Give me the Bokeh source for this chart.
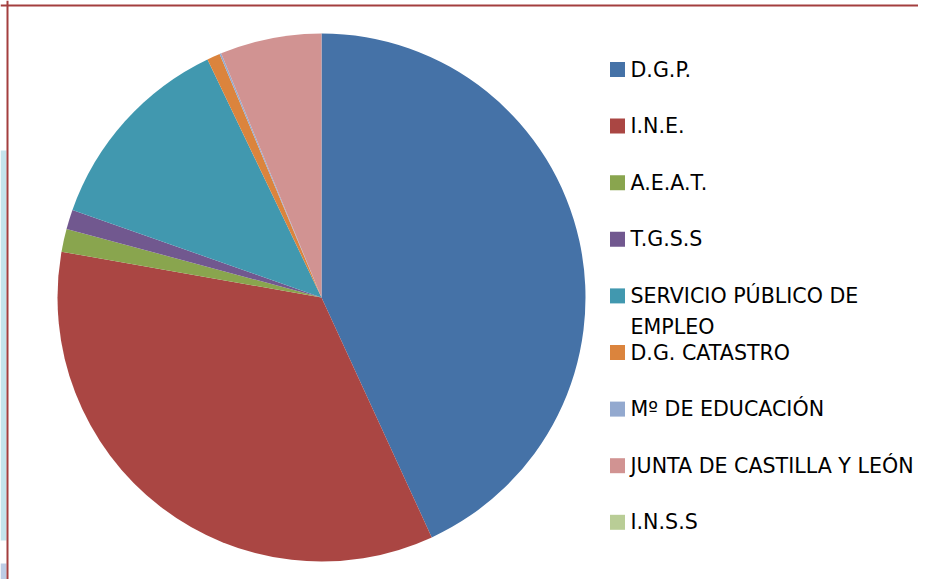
import math
from bokeh.plotting import figure
from bokeh.models import ColumnDataSource, Range1d, Span, BoxAnnotation
from bokeh.core.properties import value
from bokeh.embed import file_html
from bokeh.resources import INLINE

# ---- data (percent shares) ----
categories = ["D.G.P.", "I.N.E.", "A.E.A.T.", "T.G.S.S",
              "SERVICIO PÚBLICO DE\nEMPLEO", "D.G. CATASTRO",
              "Mº DE EDUCACIÓN", "JUNTA DE CASTILLA Y LEÓN", "I.N.S.S"]
shares = [43.1, 34.6, 1.4, 1.2, 12.5, 0.8, 0.1, 6.2, 0.0]
colors = ["#4572A7", "#AA4643", "#89A54E", "#71588F", "#4198AF",
          "#DB843D", "#93A9CF", "#D19392", "#B9CD96"]

W, H = 918, 579
p = figure(width=W, height=H, output_backend="svg", toolbar_location=None,
           x_range=Range1d(0, W), y_range=Range1d(0, H), min_border=0)
p.axis.visible = False
p.grid.visible = False
p.outline_line_color = None
p.background_fill_color = "white"
p.border_fill_color = "white"

# ---- faint background decoration at the left edge ----
p.add_layout(BoxAnnotation(left=0, right=6, top=H - 150, bottom=H - 540,
                           fill_color="#b5dde7", fill_alpha=0.8, line_color=None))
p.add_layout(BoxAnnotation(left=0, right=6, top=H - 563, bottom=0,
                           fill_color="#b6c6e2", fill_alpha=0.9, line_color=None))

# ---- pie ----
cx, cy, r = 321, H - 297, 264
total = sum(shares)
starts, ends, cols = [], [], []
cum = 0.0
for s, c in zip(shares, colors):
    if s > 0:
        starts.append(math.pi / 2 - 2 * math.pi * cum / total)
        ends.append(math.pi / 2 - 2 * math.pi * (cum + s) / total)
        cols.append(c)
    cum += s
src = ColumnDataSource(dict(start=starts, end=ends, color=cols))
p.wedge(x=cx, y=cy, radius=r, start_angle="start", end_angle="end",
        direction="clock", fill_color="color", line_color=None, source=src)

# ---- legend (manual) ----
FONT = value("DejaVu Sans")
FS = "20.6px"
top_y = H - 69
step = 56.6
ys = [top_y - i * step for i in range(len(categories))]
first_lines = [c.split("\n")[0] for c in categories]
lsrc = ColumnDataSource(dict(x=[617] * len(categories), y=ys, color=colors,
                             tx=[630] * len(categories), label=first_lines))
p.rect(x="x", y="y", width=15, height=15, width_units="screen",
       height_units="screen", fill_color="color", line_color=None, source=lsrc)
p.text(x="tx", y="y", text="label", source=lsrc, text_font=FONT,
       text_font_size=FS, text_color="#000000", text_baseline="middle")
# continuation lines
ex, ey, et = [], [], []
for c, y in zip(categories, ys):
    for k, line in enumerate(c.split("\n")[1:], start=1):
        ex.append(630)
        ey.append(y - 31 * k)
        et.append(line)
p.text(x=ex, y=ey, text=et, text_font=FONT,
       text_font_size=FS, text_color="#000000", text_baseline="middle")

# ---- frame border (top and left visible) ----
p.add_layout(Span(location=7, dimension="height", line_color="#A33F3F", line_width=2))
p.add_layout(Span(location=H - 5, dimension="width", line_color="#A33F3F", line_width=2))

open("out.html", "w").write(file_html(p, INLINE))
